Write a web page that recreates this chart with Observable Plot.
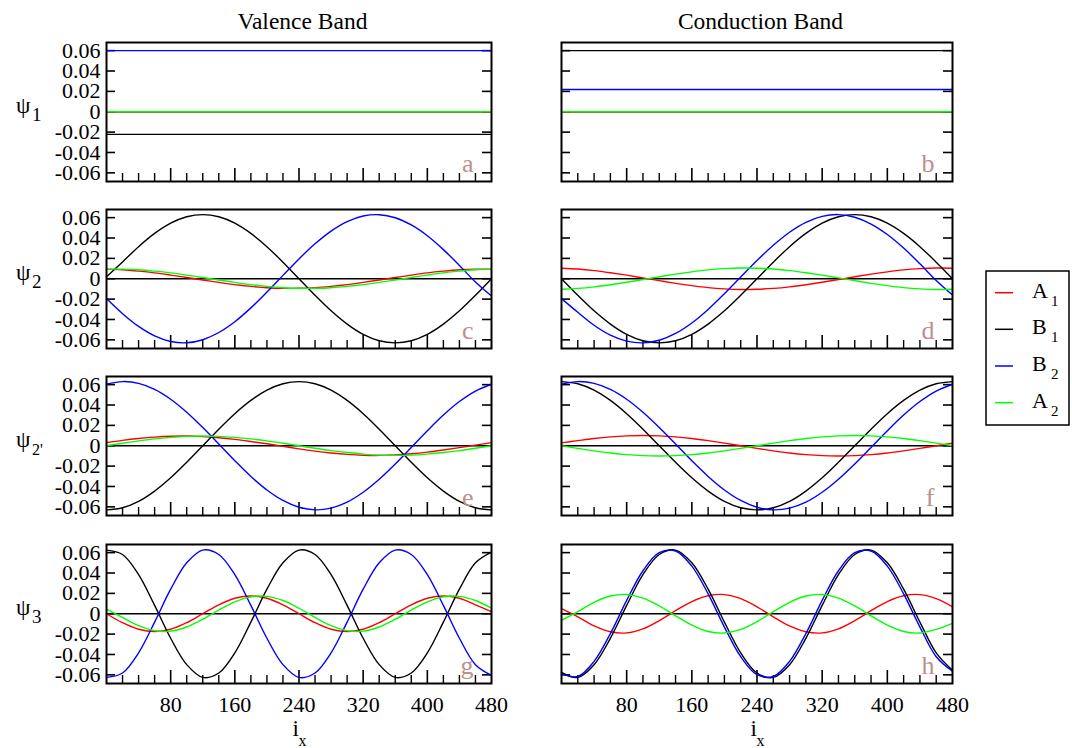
<!DOCTYPE html>
<html><head><meta charset="utf-8">
<script src="https://cdn.jsdelivr.net/npm/d3@7"></script>
<script src="https://cdn.jsdelivr.net/npm/@observablehq/plot@0.6"></script>
<style>
body{margin:0;background:#fff;}
#chart{position:relative;width:1072px;height:748px;background:#fff;overflow:hidden;}
#chart svg{position:absolute;}
</style></head><body><div id="chart"></div>
<script>
// ---- data ----
const xs = [0,20,40,60,80,100,120,140,160,180,200,220,240,260,280,300,320,340,360,380,400,420,440,460,480];
const xsFlat = [0,480];
const seriesNames = ["A1","B1","B2","A2"];
const seriesColors = ["#ff0000","#000000","#0000ff","#00ff00"];
const bandTitles = ["Valence Band","Conduction Band"];
const rowSubs = ["1","2","2'","3"];
const yTicks = [-0.06,-0.04,-0.02,0,0.02,0.04,0.06];
const xMajor = [80,160,240,320,400];
const xMinor = [20,40,60,100,120,140,180,200,220,260,280,300,340,360,380,420,440,460];
const xTickLabels = [80,160,240,320,400,480];

// panel a (valence psi1)
const a_A1 = [0,0];
const a_B1 = [-0.0222,-0.0222];
const a_B2 = [0.06,0.06];
const a_A2 = [0,0];
// panel b (conduction psi1)
const b_A1 = [0,0];
const b_B1 = [0.06,0.06];
const b_B2 = [0.0219,0.0219];
const b_A2 = [0,0];
// panel c (valence psi2)
const c_A1 = [.0094,.0088,.0075,.0058,.0036,.0012,-.0012,-.0036,-.0058,-.0075,-.0088,-.0094,-.0094,-.0088,-.0075,-.0058,-.0036,-.0012,.0012,.0036,.0058,.0075,.0088,.0094,.0094];
const c_B1 = [.002,.0165,.0315,.0445,.0546,.0609,.063,.0609,.0546,.0445,.0315,.0163,0,-.0163,-.0315,-.0445,-.0546,-.0609,-.063,-.0609,-.0546,-.0445,-.0315,-.0163,0];
const c_B2 = [-.0195,-.0343,-.0468,-.0561,-.0616,-.0629,-.0599,-.0528,-.0422,-.0286,-.0131,.0033,.0195,.0343,.0468,.0561,.0616,.0629,.0599,.0528,.0422,.0286,.0131,-.0033,-.017];
const c_A2 = [.0094,.0094,.0088,.0075,.0058,.0036,.0012,-.0012,-.0036,-.0058,-.0075,-.0088,-.0094,-.0094,-.0088,-.0075,-.0058,-.0036,-.0012,.0012,.0036,.0058,.0075,.0088,.0094];
// panel d (conduction psi2)
const d_A1 = [.0103,.0095,.0080,.0059,.0035,.0008,-.0019,-.0045,-.0068,-.0087,-.0099,-.0105,-.0103,-.0095,-.0080,-.0059,-.0035,-.0008,.0019,.0045,.0068,.0087,.0099,.0105,.0103];
const d_B1 = [0,-.0163,-.0315,-.0445,-.0546,-.0609,-.063,-.0609,-.0546,-.0445,-.0315,-.0163,0,.0163,.0315,.0445,.0546,.0609,.063,.0609,.0546,.0445,.0315,.0163,0];
const d_B2 = [-.0195,-.0329,-.0457,-.0554,-.0613,-.0630,-.0604,-.0537,-.0434,-.0301,-.0147,.0017,.0179,.0329,.0457,.0554,.0613,.0630,.0604,.0537,.0434,.0301,.0147,-.0017,-.016];
const d_A2 = [-.0103,-.0095,-.0080,-.0059,-.0035,-.0008,.0019,.0045,.0068,.0087,.0099,.0105,.0103,.0095,.0080,.0059,.0035,.0008,-.0019,-.0045,-.0068,-.0087,-.0099,-.0105,-.0103];
// panel e (valence psi2')
const e_A1 = [.0031,.0053,.0071,.0085,.0093,.0095,.0090,.0079,.0063,.0042,.0019,-.0006,-.0031,-.0053,-.0071,-.0085,-.0093,-.0095,-.0090,-.0079,-.0063,-.0042,-.0019,.0006,.0031];
const e_B1 = [-.063,-.0609,-.0546,-.0445,-.0315,-.0163,0,.0163,.0315,.0445,.0546,.0609,.063,.0609,.0546,.0445,.0315,.0163,0,-.0163,-.0315,-.0445,-.0546,-.0609,-.063];
const e_B2 = [.0604,.0630,.0613,.0554,.0457,.0329,.0179,.0017,-.0147,-.0301,-.0434,-.0537,-.0604,-.0630,-.0613,-.0554,-.0457,-.0329,-.0179,-.0017,.0147,.0301,.0434,.0537,.0604];
const e_A2 = [0,.0025,.0048,.0067,.0082,.0092,.0095,.0092,.0082,.0067,.0048,.0025,0,-.0025,-.0048,-.0067,-.0082,-.0092,-.0095,-.0092,-.0082,-.0067,-.0048,-.0025,0];
// panel f (conduction psi2')
const f_A1 = [.0028,.005,.0071,.0087,.0097,.01,.0097,.0087,.0071,.005,.0026,0,-.0026,-.005,-.0071,-.0087,-.0097,-.01,-.0097,-.0087,-.0071,-.005,-.0026,0,.0026];
const f_B1 = [.063,.0609,.0546,.0445,.0315,.0163,0,-.0163,-.0315,-.0445,-.0546,-.0609,-.063,-.0609,-.0546,-.0445,-.0315,-.0163,0,.0163,.0315,.0445,.0546,.0609,.063];
const f_B2 = [.0604,.0630,.0613,.0554,.0457,.0329,.0179,.0017,-.0147,-.0301,-.0434,-.0537,-.0604,-.0630,-.0613,-.0554,-.0457,-.0329,-.0179,-.0017,.0147,.0301,.0434,.0537,.0604];
const f_A2 = [0,-.0026,-.005,-.0071,-.0087,-.0097,-.01,-.0097,-.0087,-.0071,-.005,-.0026,0,.0026,.005,.0071,.0087,.0097,.01,.0097,.0087,.0071,.005,.0026,0];
// panel g (valence psi3)
const g_A1 = [0,-.0088,-.0152,-.0175,-.0152,-.0088,0,.0088,.0152,.0175,.0152,.0088,0,-.0088,-.0152,-.0175,-.0152,-.0088,0,.0088,.0152,.0175,.0152,.0088,.002];
const g_B1 = [.0625,.0582,.0384,.0082,-.0241,-.0500,-.0625,-.0582,-.0384,-.0082,.0241,.0500,.0625,.0582,.0384,.0082,-.0241,-.0500,-.0625,-.0582,-.0384,-.0082,.0241,.0500,.0605];
const g_B2 = [-.0625,-.0582,-.0384,-.0082,.0241,.0500,.0625,.0582,.0384,.0082,-.0241,-.0500,-.0625,-.0582,-.0384,-.0082,.0241,.0500,.0625,.0582,.0384,.0082,-.0241,-.0500,-.0605];
const g_A2 = [.0045,-.0036,-.0117,-.0166,-.0171,-.0130,-.0054,.0036,.0117,.0166,.0171,.0130,.0054,-.0036,-.0117,-.0166,-.0171,-.0130,-.0054,.0036,.0117,.0166,.0171,.0130,.0054];
// panel h (conduction psi3)
const h_A1 = [.0050,-.0030,-.0120,-.0177,-.0188,-.0148,-.0068,.0030,.0120,.0177,.0188,.0148,.0068,-.0030,-.0120,-.0177,-.0188,-.0148,-.0068,.0030,.0120,.0177,.0188,.0148,.0068];
const h_B1 = [-.0575,-.0625,-.0500,-.0241,.0082,.0384,.0582,.0625,.0500,.0241,-.0082,-.0384,-.0582,-.0625,-.0500,-.0241,.0082,.0384,.0582,.0625,.0500,.0241,-.0082,-.0384,-.0555];
const h_B2 = [-.0590,-.0616,-.0468,-.0195,.0131,.0422,.0599,.0616,.0468,.0195,-.0131,-.0422,-.0599,-.0616,-.0468,-.0195,.0131,.0422,.0599,.0616,.0468,.0195,-.0131,-.0422,-.0565];
const h_A2 = [-.0065,.0020,.0112,.0174,.0189,.0154,.0077,-.0020,-.0112,-.0174,-.0189,-.0154,-.0077,.0020,.0112,.0174,.0189,.0154,.0077,-.0020,-.0112,-.0174,-.0189,-.0154,-.0095];

const panels = [
  {letter:"a", col:0, row:0, x:xsFlat, s:[a_A1,a_B1,a_B2,a_A2]},
  {letter:"b", col:1, row:0, x:xsFlat, s:[b_A1,b_B1,b_B2,b_A2]},
  {letter:"c", col:0, row:1, x:xs, s:[c_A1,c_B1,c_B2,c_A2]},
  {letter:"d", col:1, row:1, x:xs, s:[d_A1,d_B1,d_B2,d_A2]},
  {letter:"e", col:0, row:2, x:xs, s:[e_A1,e_B1,e_B2,e_A2]},
  {letter:"f", col:1, row:2, x:xs, s:[f_A1,f_B1,f_B2,f_A2]},
  {letter:"g", col:0, row:3, x:xs, s:[g_A1,g_B1,g_B2,g_A2]},
  {letter:"h", col:1, row:3, x:xs, s:[h_A1,h_B1,h_B2,h_A2]}
];

// ---- layout ----
const frameLeft = [106, 561], frameW = [385, 391];
const frameTop = [42, 209, 376, 544], frameH = 139;
const yDomain = [-0.0685, 0.068];
const FONT = "'Liberation Serif', serif";
const chart = document.getElementById("chart");

for (const p of panels) {
  const fw = frameW[p.col];
  const ml = p.col === 0 ? 106 : 10, mr = 10, mt = 5;
  const mb = p.row === 3 ? 40 : 5;
  const marks = [
    Plot.ruleY([0], {stroke: "black", strokeWidth: 1.5}),
    Plot.ruleY(yTicks, {y: d => d, insetRight: fw - 9, stroke: "black", strokeWidth: 1.6}),
    Plot.ruleY(yTicks, {y: d => d, insetLeft: fw - 9, stroke: "black", strokeWidth: 1.6}),
    Plot.ruleX(xMajor, {x: d => d, insetTop: frameH - 13, stroke: "black", strokeWidth: 1.6}),
    Plot.ruleX(xMinor, {x: d => d, insetTop: frameH - 8, stroke: "black", strokeWidth: 1.4})
  ];
  p.s.forEach((vals, i) => {
    const rows = p.x.map((x, j) => ({x, y: vals[j]}));
    marks.push(Plot.line(rows, {x: "x", y: "y", stroke: seriesColors[i], strokeWidth: 1.4, curve: "catmull-rom"}));
  });
  marks.push(Plot.text([p.letter], {text: d => d, frameAnchor: "bottom-right", dx: -18, dy: -10, fill: "#bc8f8f", fontSize: 26}));
  marks.push(Plot.frame({stroke: "black", strokeWidth: 2}));
  const svg = Plot.plot({
    width: fw + ml + mr,
    height: frameH + mt + mb,
    marginLeft: ml, marginRight: mr, marginTop: mt, marginBottom: mb,
    x: {domain: [0, 480], label: null, axis: p.row === 3 ? "bottom" : null, ticks: xTickLabels, tickSize: 0, tickPadding: 13, tickFormat: d => String(d)},
    y: {domain: yDomain, label: null, axis: p.col === 0 ? "left" : null, ticks: yTicks, tickSize: 0, tickPadding: 6, tickFormat: d => d === 0 ? "0" : d.toFixed(2)},
    style: {fontFamily: FONT, fontSize: "22px", background: "transparent", overflow: "visible", maxWidth: "none"},
    marks
  });
  svg.style.left = (frameLeft[p.col] - ml) + "px";
  svg.style.top = (frameTop[p.row] - mt) + "px";
  chart.appendChild(svg);
}

// ---- labels overlay (titles, row labels, axis labels, legend) ----
const ov = d3.create("svg").attr("width", 1072).attr("height", 748)
  .style("left", "0px").style("top", "0px")
  .attr("font-family", FONT);

bandTitles.forEach((t, i) => {
  ov.append("text").attr("x", frameLeft[i] + frameW[i] / 2 + 4).attr("y", 29)
    .attr("text-anchor", "middle").attr("font-size", 23.5).text(t);
});

const zeroY = frameTop.map(t => t + frameH * yDomain[1] / (yDomain[1] - yDomain[0]));
rowSubs.forEach((sub, i) => {
  ov.append("text").attr("x", 16).attr("y", zeroY[i] + 2).attr("font-size", 23).text("ψ");
  ov.append("text").attr("x", 32).attr("y", zeroY[i] + 10)
    .attr("font-size", sub === "2'" ? 16 : 19).text(sub);
});

[0, 1].forEach(i => {
  const cx = frameLeft[i] + frameW[i] / 2 - 2;
  ov.append("text").attr("x", cx - 4).attr("y", 736).attr("font-size", 23).text("i");
  ov.append("text").attr("x", cx + 2).attr("y", 746).attr("font-size", 16).text("x");
});

// legend
ov.append("rect").attr("x", 986).attr("y", 271).attr("width", 83).attr("height", 154)
  .attr("fill", "white").attr("stroke", "black").attr("stroke-width", 1.5);
const legY = [292.7, 329.3, 366, 402.7];
seriesNames.forEach((n, i) => {
  ov.append("line").attr("x1", 995).attr("x2", 1013).attr("y1", legY[i]).attr("y2", legY[i])
    .attr("stroke", seriesColors[i]).attr("stroke-width", 1.5);
  ov.append("text").attr("x", 1032).attr("y", legY[i] + 5).attr("font-size", 22).text(n[0]);
  ov.append("text").attr("x", 1051).attr("y", legY[i] + 13).attr("font-size", 15).text(n[1]);
});

chart.appendChild(ov.node());
</script></body></html>
